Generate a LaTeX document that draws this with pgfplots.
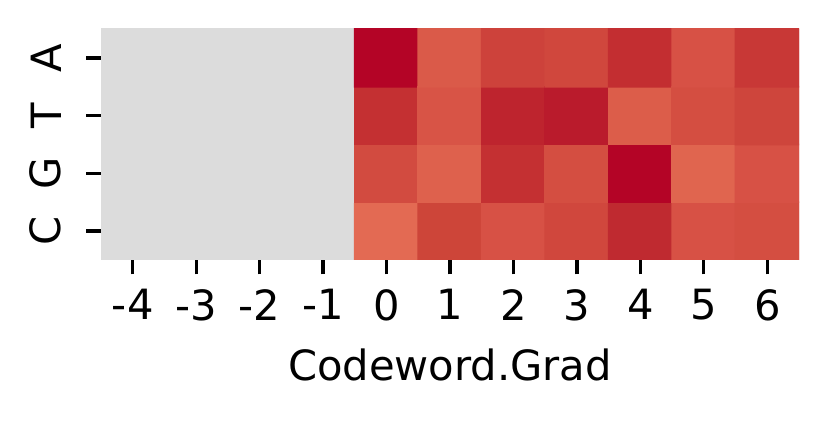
\documentclass[border=0pt]{standalone}
\usepackage{fontspec}
\setmainfont{DejaVu Sans}
\usepackage{pgfplots}
\pgfplotsset{compat=1.18}
\usetikzlibrary{calc}

% one colour per cell shade; index 0 is the masked grey
\pgfplotsset{colormap={cells}{
  rgb255=(220,220,220)
  rgb255=(180,4,38)
  rgb255=(218,90,73)
  rgb255=(205,66,59)
  rgb255=(208,71,61)
  rgb255=(195,46,49)
  rgb255=(215,81,69)
  rgb255=(200,56,54)
  rgb255=(196,48,50)
  rgb255=(216,84,70)
  rgb255=(190,36,46)
  rgb255=(186,27,44)
  rgb255=(220,93,74)
  rgb255=(212,78,65)
  rgb255=(206,69,60)
  rgb255=(210,75,64)
  rgb255=(222,97,77)
  rgb255=(224,101,79)
  rgb255=(227,106,83)
  rgb255=(205,69,57)
  rgb255=(191,42,48)
}}

\begin{document}
\begin{tikzpicture}
\begin{axis}[
  scale only axis,width=167.5pt,height=55.4pt,
  xmin=-4.5,xmax=6.5,ymin=-0.5,ymax=3.5,enlargelimits=false,
  axis line style={draw=none},
  xtick={-4,...,6},xticklabels={-4,-3,-2,-1,0,1,2,3,4,5,6},
  ytick={0,1,2,3},yticklabels={C,G,T,A},
  xtick pos=bottom,ytick pos=left,
  tick align=outside,major tick length=3.5pt,
  tick style={black,line width=0.8pt},
  y tick label style={xshift=-2.5pt,rotate=90,anchor=south},
  xlabel={Codeword.Grad},
  colormap name=cells,colormap access=direct,
]
\addplot[matrix plot*,mesh/cols=11,mesh/rows=4,point meta=explicit]
  table[meta=c]{
x y c
-4 0 0
-3 0 0
-2 0 0
-1 0 0
0 0 18
1 0 19
2 0 6
3 0 4
4 0 20
5 0 6
6 0 13
-4 1 0
-3 1 0
-2 1 0
-1 1 0
0 1 15
1 1 16
2 1 8
3 1 13
4 1 1
5 1 17
6 1 6
-4 2 0
-3 2 0
-2 2 0
-1 2 0
0 2 8
1 2 9
2 2 10
3 2 11
4 2 12
5 2 13
6 2 14
-4 3 0
-3 3 0
-2 3 0
-1 3 0
0 3 1
1 3 2
2 3 3
3 3 4
4 3 5
5 3 6
6 3 7
};
\coordinate (sw) at (rel axis cs:0,0);
\coordinate (ne) at (rel axis cs:1,1);
\end{axis}
\pgfresetboundingbox
\path[use as bounding box] ($(sw)+(-24.24pt,-38.5pt)$) rectangle ($(ne)+(6.96pt,6.96pt)$);
\end{tikzpicture}
\end{document}
